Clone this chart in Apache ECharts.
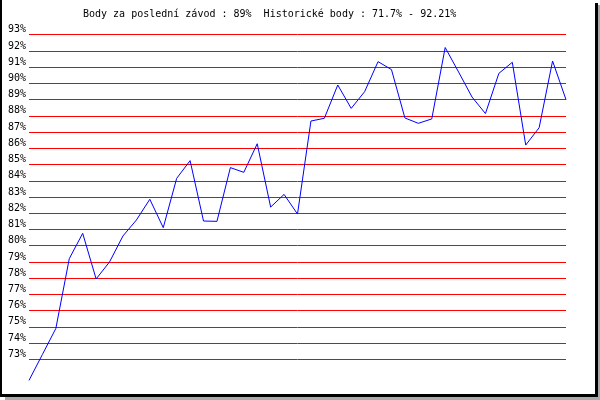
<!DOCTYPE html>
<html>
<head>
<meta charset="utf-8">
<script src="https://cdn.jsdelivr.net/npm/echarts@6/dist/echarts.min.js"></script>
<style>html,body{margin:0;padding:0;background:#fff;}#c{width:600px;height:400px;}</style>
</head>
<body>
<div id="c"></div>
<script>
const titleText = 'Body za poslední závod : 89%  Historické body : 71.7% - 92.21%';
const races = Array.from({length: 41}, (_, i) => String(i + 1));
const points = [71.7, 73.3, 74.9, 79.2, 80.76, 77.95, 79.0, 80.6, 81.58, 82.86,
  81.11, 84.15, 85.24, 81.52, 81.5, 84.81, 84.52, 86.28, 82.38, 83.16,
  81.95, 87.68, 87.85, 89.9, 88.46, 89.49, 91.34, 90.85, 87.87, 87.54,
  87.81, 92.21, 90.7, 89.16, 88.14, 90.62, 91.3, 86.2, 87.27, 91.38, 89.0];
const yMin = 73, yMax = 93, yStep = 1;

const chart = echarts.init(document.getElementById('c'), null, {renderer: 'canvas'});
const font = '"DejaVu Sans Mono", monospace';
chart.setOption({
  animation: false,
  backgroundColor: '#ffffff',
  title: {
    text: titleText, left: 83, top: 9, padding: 0,
    textStyle: {fontFamily: font, fontSize: 10, fontWeight: 'normal', color: '#000'}
  },
  grid: {left: 29, right: 34, top: 34.7, bottom: 40.7, containLabel: false},
  xAxis: {
    type: 'category', data: races, boundaryGap: false, show: false
  },
  yAxis: {
    type: 'value', min: yMin, max: yMax, interval: yStep,
    axisLine: {show: false}, axisTick: {show: false},
    axisLabel: {
      formatter: v => v + '%', margin: 3, verticalAlign: 'bottom',
      fontFamily: font, fontSize: 10, color: '#000'
    },
    splitLine: {show: true, lineStyle: {color: '#ff0000', width: 1}}
  },
  series: [{
    type: 'line', data: points, clip: false, symbol: 'none',
    lineStyle: {color: '#0000ff', width: 1}
  }],
  graphic: [
    {type: 'rect', shape: {x: 0, y: 0, width: 2, height: 397}, style: {fill: '#000'}},
    {type: 'rect', shape: {x: 595, y: 3, width: 3, height: 394}, style: {fill: '#000'}},
    {type: 'rect', shape: {x: 0, y: 394, width: 598, height: 3}, style: {fill: '#000'}},
    {type: 'rect', shape: {x: 598, y: 5, width: 2, height: 395}, style: {fill: '#aaaaaa'}},
    {type: 'rect', shape: {x: 5, y: 397, width: 595, height: 3}, style: {fill: '#aaaaaa'}}
  ]
});
</script>
</body>
</html>
